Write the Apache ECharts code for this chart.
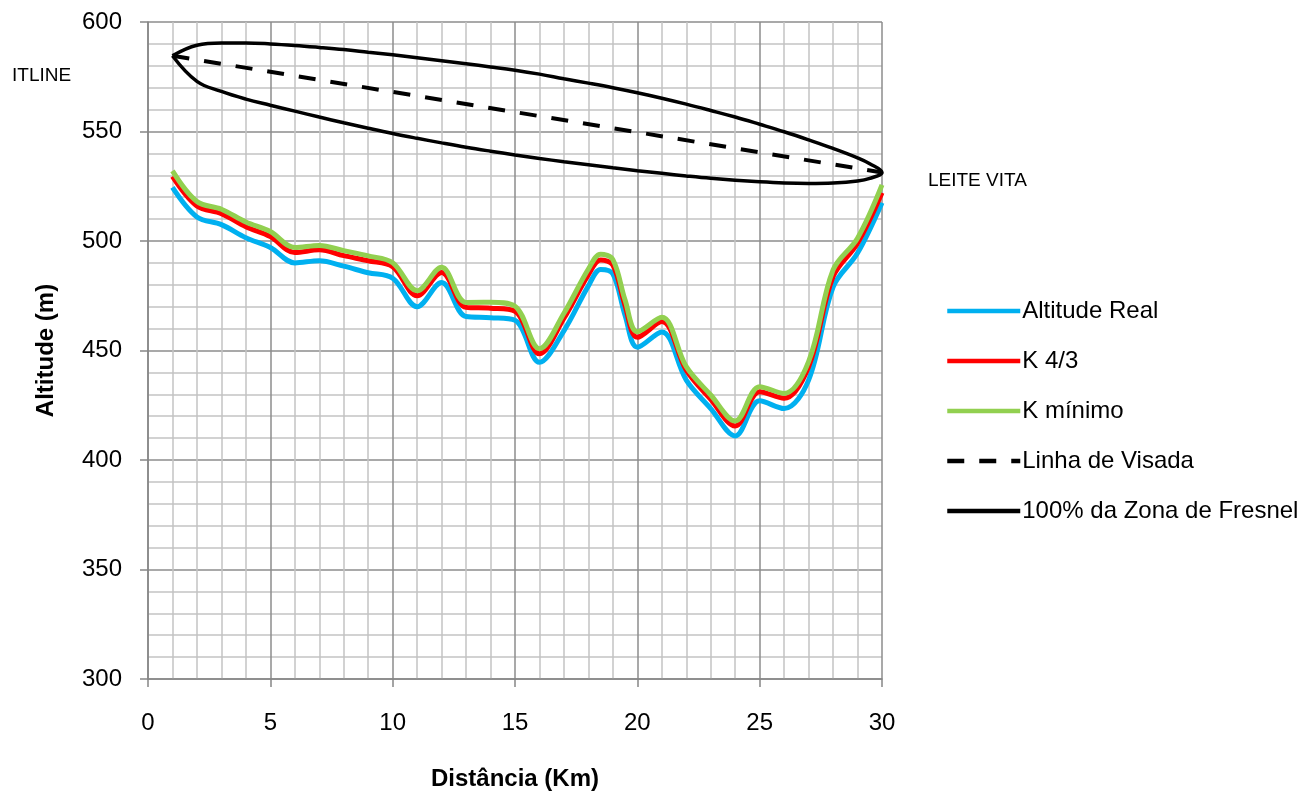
<!DOCTYPE html>
<html lang="pt">
<head>
    <meta charset="UTF-8">
    <script src="https://cdn.jsdelivr.net/npm/echarts@6/dist/echarts.min.js"></script>
    <title>Perfil do enlace</title>
    <style>
        html, body { margin: 0; padding: 0; background: #fff; }
        #main { width: 1304px; height: 791px; }
    </style>
</head>
<body>
<div id="main"></div>

<script>
    // distancia (km) dos pontos do perfil
    var km = [1, 2, 3, 4, 5, 6, 7, 8, 9, 10, 11, 12, 13, 14, 15,
        16, 17, 18, 18.5, 19, 19.5, 20, 21, 22, 23, 24, 25, 26, 27, 28, 29, 30]
    var altitudeReal = [524.5, 511, 507.5, 501.5, 497, 490, 491, 488.5, 485.5, 483, 470, 481, 465.5, 465, 463.8,
        444.6, 459, 479.5, 487, 485, 466, 451.5, 458.5, 436.5, 423.5, 411, 427, 423.5, 436.5, 479, 494.5, 517.5]
    var k43 = [529.5, 516, 512.5, 506.5, 502, 494.7, 496, 493.3, 491, 488.3, 475, 485.6, 469.7, 469.3, 467.9,
        448.5, 464.7, 484.6, 491.3, 489, 470.5, 456, 463.2, 441, 427.7, 415.5, 431.2, 428.2, 442.6, 483.7, 499, 522]
    var kMinimo = [532, 518, 514.5, 508.7, 504.3, 497, 498, 495.6, 493.2, 490.1, 477.3, 488, 471.9, 472, 470.2,
        450.8, 467, 487.2, 494, 491.5, 473, 458.6, 465.2, 442.6, 429.7, 417.8, 433.5, 430.4, 444.9, 486.8, 501.3, 525.6]

    // linha de visada
    var visadaKm = [1, 30]
    var visada = [584.6, 531.3]

    // 100% da zona de Fresnel (borda superior e inferior)
    var fresnelKm = [1, 2, 3, 4, 5, 6, 7, 8, 9, 10, 11, 12, 13, 14, 15,
        16, 17, 18, 19, 20, 21, 22, 23, 24, 25, 26, 27, 28, 29, 29.5, 30]
    var fresnelSup = [584.6, 589.4, 590.4, 590.4, 590, 589.3, 588.4, 587.4, 586.2, 585, 583.7, 582.3, 580.9, 579.5, 578,
        576.2, 574.1, 572.1, 570, 567.7, 565.2, 562.5, 559.6, 556.6, 553.3, 549.9, 546.2, 542.3, 538, 535.3, 531.3]
    var fresnelInf = [584.6, 572.9, 568.3, 564.8, 562, 559.3, 556.6, 554, 551.5, 549.1, 546.9, 544.8, 542.8, 541, 539.3,
        537.7, 536.2, 534.8, 533.4, 532.1, 530.9, 529.7, 528.6, 527.7, 527, 526.5, 526.3, 526.5, 527.4, 528.6, 531.3]

    function pares(xs, ys) {
        return xs.map(function (x, i) { return [x, ys[i]] })
    }

    // contorno fechado: borda superior ida, inferior volta
    var fresnel = pares(fresnelKm, fresnelSup)
    for (var i = fresnelKm.length - 2; i >= 0; i--) {
        fresnel.push([fresnelKm[i], fresnelInf[i]])
    }

    var fonte = 'Liberation Sans'

    var myChart = echarts.init(document.getElementById('main'))

    var option = {
        animation: false,
        textStyle: { fontFamily: fonte },
        grid: { left: 148, top: 22, right: 422, bottom: 112, outerBoundsMode: 'none', containLabel: false },
        legend: {
            orient: 'vertical',
            left: 940,
            top: 294,
            itemWidth: 73,
            itemHeight: 20,
            itemGap: 26,
            itemStyle: { color: 'rgba(0,0,0,0)', borderWidth: 0 },
            lineStyle: { width: 4.5 },
            textStyle: { fontSize: 24, color: '#000', fontFamily: fonte, padding: [0, 0, 0, -3] },
            data: ['Altitude Real', 'K 4/3', 'K mínimo', 'Linha de Visada', '100% da Zona de Fresnel']
        },
        xAxis: {
            type: 'value',
            min: 0,
            max: 30,
            interval: 5,
            name: 'Distância (Km)',
            nameLocation: 'middle',
            nameGap: 88,
            nameTextStyle: { fontSize: 24, fontWeight: 'bold', color: '#000' },
            axisLine: { lineStyle: { color: '#868686', width: 1.5 } },
            axisTick: { show: true, length: 8, lineStyle: { color: '#868686', width: 1.5 } },
            axisLabel: { fontSize: 24, color: '#000', margin: 32 },
            splitLine: { show: true, lineStyle: { color: '#8c8c8c', width: 1.5 } },
            minorTick: { show: false, splitNumber: 5 },
            minorSplitLine: { show: true, lineStyle: { color: '#c4c4c4', width: 1.5 } }
        },
        yAxis: {
            type: 'value',
            min: 300,
            max: 600,
            interval: 50,
            name: 'Altitude (m)',
            nameLocation: 'middle',
            nameGap: 90,
            nameTextStyle: { fontSize: 24, fontWeight: 'bold', color: '#000' },
            axisLine: { show: true, lineStyle: { color: '#868686', width: 1.5 } },
            axisTick: { show: true, length: 8, lineStyle: { color: '#868686', width: 1.5 } },
            axisLabel: { fontSize: 24, color: '#000', margin: 26 },
            splitLine: { show: true, lineStyle: { color: '#8c8c8c', width: 1.5 } },
            minorTick: { show: false, splitNumber: 5 },
            minorSplitLine: { show: true, lineStyle: { color: '#c4c4c4', width: 1.5 } }
        },
        graphic: [
            { type: 'text', left: 12, top: 66, style: { text: 'ITLINE', font: '19px Liberation Sans', fill: '#000' } },
            { type: 'text', left: 928, top: 171, style: { text: 'LEITE VITA', font: '19px Liberation Sans', fill: '#000' } }
        ],
        series: [
            {
                name: 'Altitude Real',
                type: 'line',
                symbol: 'none',
                smooth: 0.35,
                color: '#00b0f0',
                lineStyle: { width: 5 },
                data: pares(km, altitudeReal)
            },
            {
                name: 'K 4/3',
                type: 'line',
                symbol: 'none',
                smooth: 0.35,
                color: '#ff0000',
                lineStyle: { width: 5 },
                data: pares(km, k43)
            },
            {
                name: 'K mínimo',
                type: 'line',
                symbol: 'none',
                smooth: 0.35,
                color: '#92d050',
                lineStyle: { width: 5 },
                data: pares(km, kMinimo)
            },
            {
                name: 'Linha de Visada',
                type: 'line',
                symbol: 'none',
                color: '#000',
                lineStyle: { width: 4, type: [17, 15] },
                data: pares(visadaKm, visada)
            },
            {
                name: '100% da Zona de Fresnel',
                type: 'line',
                symbol: 'none',
                smooth: 0.4,
                color: '#000',
                lineStyle: { width: 3.5 },
                data: fresnel
            }
        ]
    }

    myChart.setOption(option)
</script>
</body>
</html>
